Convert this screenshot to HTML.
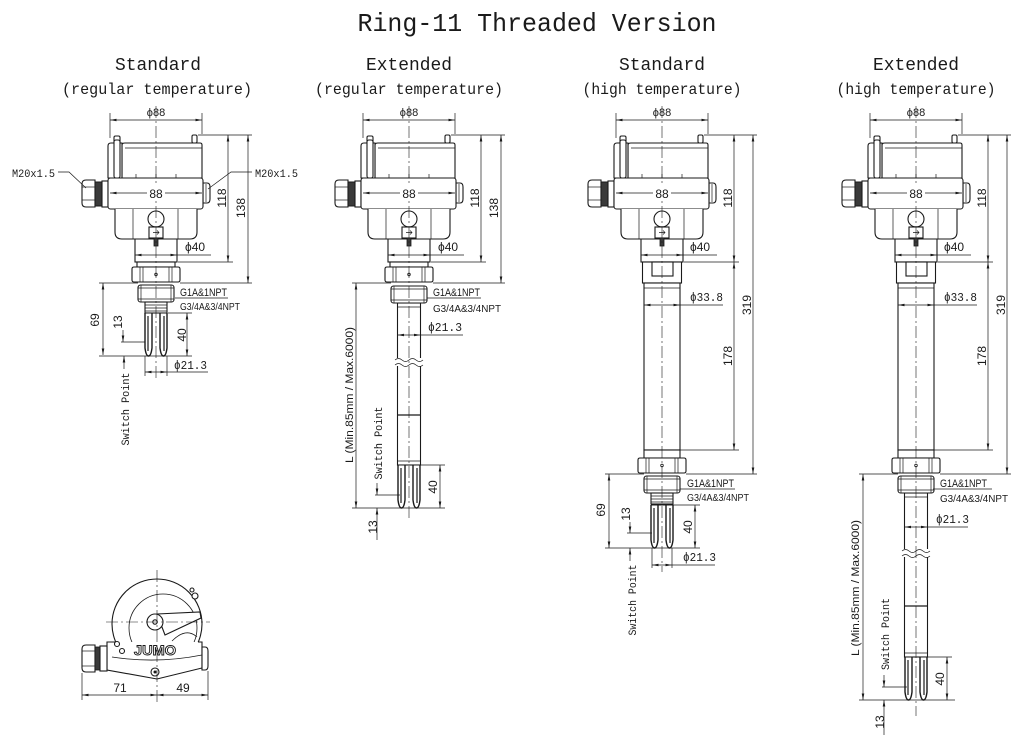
<!DOCTYPE html>
<html><head><meta charset="utf-8"><style>
html,body{margin:0;padding:0;background:#fff;}
svg{display:block;}
text{font-family:"Liberation Sans",sans-serif;fill:#1a1a1a;stroke:none;}
.m{font-family:"Liberation Mono",monospace;}
.d{fill:none;stroke:#1a1a1a;stroke-width:0.7;}
.c{fill:none;stroke:#1a1a1a;stroke-width:0.6;stroke-dasharray:12 3 2 3;}
.o{fill:#fff;stroke:#1a1a1a;stroke-width:1.1;}
.n{fill:none;stroke:#1a1a1a;stroke-width:1.1;}
</style></head><body>
<svg width="1024" height="739" viewBox="0 0 1024 739" xmlns="http://www.w3.org/2000/svg">
<defs>
<marker id="ar" viewBox="0 0 10 4" refX="10" refY="2" markerWidth="7" markerHeight="2.6" markerUnits="userSpaceOnUse" orient="auto-start-reverse"><path d="M0,0L10,2L0,4Z" fill="#1a1a1a"/></marker>
<clipPath id="top"><rect x="90" y="560" width="130" height="82"/></clipPath>
<g id="head">
 <rect class="o" x="-21" y="236" width="42" height="26"/>
 <path class="o" d="M-61,180 H-70 Q-74,180 -74,184 V203 Q-74,207 -70,207 H-61 Z"/>
 <line class="d" x1="-74" y1="187" x2="-61" y2="187"/>
 <line class="d" x1="-74" y1="200" x2="-61" y2="200"/>
 <rect x="-61" y="182" width="7" height="24" fill="#3a3a3a" stroke="#1a1a1a" stroke-width="1"/>
 <rect class="o" x="-54" y="181" width="6" height="26"/>
 <path class="o" d="M47,183 H51 Q54,183 54,187 V199 Q54,203 51,203 H47 Z"/>
 <line class="d" x1="50" y1="184" x2="50" y2="202"/>
 <rect class="o" x="-42" y="136" width="6" height="8" rx="1.5"/>
 <rect class="o" x="36" y="135" width="5" height="8" rx="1.5"/>
 <path class="o" d="M-34,178 V145 Q-34,143 -31,143 H44 Q46,143 46,145 V178 Z"/>
 <line class="d" x1="-31" y1="148" x2="46" y2="148"/>
 <path class="o" d="M-48,178 V146 Q-48,143 -45,143 H-34 V178 Z"/>
 <rect class="o" x="-42" y="140" width="6" height="38" rx="2"/>
 <line class="d" x1="-20" y1="174" x2="-20" y2="178"/>
 <line class="d" x1="0" y1="174" x2="0" y2="178"/>
 <line class="d" x1="20" y1="174" x2="20" y2="178"/>
 <rect class="o" x="-48" y="178" width="95" height="31" rx="2.5"/>
 <path class="o" d="M-41,209 V232 Q-41,239 -34,239 H34 Q41,239 41,232 V209"/>
 <line class="d" x1="-23" y1="209" x2="-23" y2="239"/>
 <line class="d" x1="22" y1="209" x2="22" y2="239"/>
 <circle class="o" cx="0" cy="219" r="8"/>
 <rect class="o" x="-7" y="227" width="14" height="11"/>
 <path class="d" d="M-3,232.5 H3 M1,230.5 L3,232.5 L1,234.5"/>
 <rect x="-2" y="238" width="4" height="8" fill="#3a3a3a" stroke="#1a1a1a" stroke-width="0.8"/>
</g>
<g id="nut">
 <path class="o" d="M-24,2 Q-24,0 -22,0 H22 Q24,0 24,2 V13 Q24,15 22,15 H-22 Q-24,15 -24,13 Z"/>
 <line class="d" x1="-16" y1="0" x2="-16" y2="15"/>
 <line class="d" x1="-13" y1="0" x2="-13" y2="15"/>
 <line class="d" x1="13" y1="0" x2="13" y2="15"/>
 <line class="d" x1="16" y1="0" x2="16" y2="15"/>
 <circle cx="0" cy="7.5" r="1.3" fill="#fff" stroke="#1a1a1a" stroke-width="0.8"/>
</g>
<g id="thr">
 <rect class="o" x="-18" y="0" width="36" height="17" rx="2.5"/>
 <line class="d" x1="-18" y1="3" x2="18" y2="3"/>
 <line class="d" x1="-18" y1="14" x2="18" y2="14"/>
 <line class="d" x1="-15" y1="0" x2="-15" y2="17"/>
 <line class="d" x1="15" y1="0" x2="15" y2="17"/>
</g>
<g id="sml">
 <rect class="o" x="-11" y="0" width="22" height="11"/>
 <line class="d" x1="-11" y1="3" x2="11" y2="3"/>
 <line class="d" x1="-11" y1="6" x2="11" y2="6"/>
 <line class="d" x1="-11" y1="9" x2="11" y2="9"/>
</g>
<g id="fork">
 <path d="M-11,0 V35 Q-10,43 -7.5,43 Q-5,43 -4,35 V0" fill="#fff" stroke="#1a1a1a" stroke-width="1.4"/>
 <path d="M11,0 V35 Q10,43 7.5,43 Q5,43 4,35 V0" fill="#fff" stroke="#1a1a1a" stroke-width="1.4"/>
 <line x1="-8" y1="3" x2="-8" y2="38" stroke="#1a1a1a" stroke-width="1.2"/>
 <line x1="8" y1="3" x2="8" y2="38" stroke="#1a1a1a" stroke-width="1.2"/>
 <line x1="-11" y1="0" x2="11" y2="0" stroke="#1a1a1a" stroke-width="1"/>
</g>
</defs>

<!-- Titles -->
<text class="m" x="537" y="31" text-anchor="middle" font-size="26" textLength="359" lengthAdjust="spacingAndGlyphs">Ring-11 Threaded Version</text>
<text class="m" x="158" y="70" text-anchor="middle" font-size="18" textLength="86" lengthAdjust="spacingAndGlyphs">Standard</text>
<text class="m" x="157" y="94" text-anchor="middle" font-size="16" textLength="190" lengthAdjust="spacingAndGlyphs">(regular temperature)</text>
<text class="m" x="409" y="70" text-anchor="middle" font-size="18" textLength="86" lengthAdjust="spacingAndGlyphs">Extended</text>
<text class="m" x="409" y="94" text-anchor="middle" font-size="16" textLength="188" lengthAdjust="spacingAndGlyphs">(regular temperature)</text>
<text class="m" x="662" y="70" text-anchor="middle" font-size="18" textLength="86" lengthAdjust="spacingAndGlyphs">Standard</text>
<text class="m" x="662" y="94" text-anchor="middle" font-size="16" textLength="159" lengthAdjust="spacingAndGlyphs">(high temperature)</text>
<text class="m" x="916" y="70" text-anchor="middle" font-size="18" textLength="86" lengthAdjust="spacingAndGlyphs">Extended</text>
<text class="m" x="916" y="94" text-anchor="middle" font-size="16" textLength="159" lengthAdjust="spacingAndGlyphs">(high temperature)</text>

<!-- ================= COLUMN 1 ================= -->
<g transform="translate(156,0)">
 <use href="#head"/>
 <rect class="o" x="-19" y="262" width="38" height="5"/>
 <use href="#nut" y="267"/>
 <use href="#thr" y="285"/>
 <use href="#sml" y="302"/>
 <use href="#fork" y="313"/>
 <line class="c" x1="0" y1="106" x2="0" y2="380"/>
 <line class="d" x1="-46" y1="113" x2="-46" y2="138"/>
 <line class="d" x1="46" y1="113" x2="46" y2="134"/>
 <line class="d" x1="-46" y1="120" x2="46" y2="120" marker-start="url(#ar)" marker-end="url(#ar)"/>
 <text x="0" y="116" text-anchor="middle" font-size="11">ϕ88</text>
 <line class="d" x1="-46" y1="193" x2="46" y2="193" marker-start="url(#ar)" marker-end="url(#ar)"/>
 <rect x="-9" y="186" width="18" height="13" fill="#fff"/>
 <text x="0" y="198" text-anchor="middle" font-size="12">88</text>
 <line class="d" x1="42" y1="135" x2="96" y2="135"/>
 <line class="d" x1="22" y1="262" x2="77" y2="262"/>
 <line class="d" x1="24" y1="283" x2="96" y2="283"/>
 <line class="d" x1="-57" y1="283" x2="-18" y2="283"/>
 <line class="d" x1="72" y1="135" x2="72" y2="262" marker-start="url(#ar)" marker-end="url(#ar)"/>
 <line class="d" x1="92" y1="135" x2="92" y2="283" marker-start="url(#ar)" marker-end="url(#ar)"/>
 <text transform="translate(70,198) rotate(-90)" text-anchor="middle" font-size="12">118</text>
 <text transform="translate(89,208) rotate(-90)" text-anchor="middle" font-size="12">138</text>
 <line class="d" x1="-21" y1="255" x2="21" y2="255" marker-start="url(#ar)" marker-end="url(#ar)"/>
 <line class="d" x1="21" y1="255" x2="55" y2="255"/>
 <text x="29" y="251" font-size="12">ϕ40</text>
 <text x="24" y="296" font-size="11" textLength="47" lengthAdjust="spacingAndGlyphs">G1A&amp;1NPT</text>
 <line class="d" x1="19" y1="298" x2="72" y2="298"/>
 <text x="24" y="310" font-size="10" textLength="60" lengthAdjust="spacingAndGlyphs">G3/4A&amp;3/4NPT</text>
 <line class="d" x1="-53" y1="283" x2="-53" y2="355" marker-start="url(#ar)" marker-end="url(#ar)"/>
 <text transform="translate(-57,320) rotate(-90)" text-anchor="middle" font-size="12">69</text>
 <line class="d" x1="-57" y1="356" x2="36" y2="356"/>
 <line class="d" x1="-33" y1="330" x2="-33" y2="342" marker-end="url(#ar)"/>
 <line class="d" x1="-35" y1="342" x2="-11" y2="342"/>
 <text transform="translate(-34,322) rotate(-90)" text-anchor="middle" font-size="12">13</text>
 <line class="d" x1="-32" y1="356" x2="-32" y2="369" marker-start="url(#ar)"/>
 <text class="m" transform="translate(-27,409) rotate(-90)" text-anchor="middle" font-size="11" textLength="73" lengthAdjust="spacingAndGlyphs">Switch Point</text>
 <line class="d" x1="12" y1="313" x2="36" y2="313"/>
 <line class="d" x1="31" y1="313" x2="31" y2="356" marker-start="url(#ar)" marker-end="url(#ar)"/>
 <text transform="translate(30,335) rotate(-90)" text-anchor="middle" font-size="12">40</text>
 <line class="d" x1="-11" y1="356" x2="-11" y2="376"/>
 <line class="d" x1="11" y1="356" x2="11" y2="376"/>
 <line class="d" x1="-11" y1="372" x2="11" y2="372" marker-start="url(#ar)" marker-end="url(#ar)"/>
 <line class="d" x1="11" y1="372" x2="52" y2="372"/>
 <text class="m" x="18" y="369" font-size="12" textLength="33" lengthAdjust="spacingAndGlyphs">ϕ21.3</text>
</g>
<text class="m" x="12" y="177" font-size="11" textLength="43" lengthAdjust="spacingAndGlyphs">M20x1.5</text>
<polyline class="d" points="58,172 69,172 86,188"/>
<text class="m" x="255" y="177" font-size="11" textLength="43" lengthAdjust="spacingAndGlyphs">M20x1.5</text>
<polyline class="d" points="252,172 231,172 208,189"/>

<!-- ================= COLUMN 2 ================= -->
<g transform="translate(409,0)">
 <use href="#head"/>
 <rect class="o" x="-19" y="262" width="38" height="5"/>
 <use href="#nut" y="267"/>
 <rect class="o" x="-11.5" y="303" width="23" height="162"/>
 <line class="d" x1="-11.5" y1="307" x2="11.5" y2="307"/>
 <line class="d" x1="-11.5" y1="415" x2="11.5" y2="415" style="stroke-width:1.2"/>
 <line class="d" x1="-11.5" y1="461" x2="11.5" y2="461"/>
 <rect x="-14" y="358" width="28" height="8" fill="#fff"/>
 <path class="d" d="M-14,360 q3.5,-3 7,0 t7,0 t7,0 t7,0 M-14,365 q3.5,-3 7,0 t7,0 t7,0 t7,0"/>
 <use href="#thr" y="286"/>
 <use href="#fork" y="465"/>
 <line class="c" x1="0" y1="106" x2="0" y2="520"/>
 <line class="d" x1="-46" y1="113" x2="-46" y2="138"/>
 <line class="d" x1="46" y1="113" x2="46" y2="134"/>
 <line class="d" x1="-46" y1="120" x2="46" y2="120" marker-start="url(#ar)" marker-end="url(#ar)"/>
 <text x="0" y="116" text-anchor="middle" font-size="11">ϕ88</text>
 <line class="d" x1="-46" y1="193" x2="46" y2="193" marker-start="url(#ar)" marker-end="url(#ar)"/>
 <rect x="-9" y="186" width="18" height="13" fill="#fff"/>
 <text x="0" y="198" text-anchor="middle" font-size="12">88</text>
 <line class="d" x1="42" y1="135" x2="96" y2="135"/>
 <line class="d" x1="22" y1="262" x2="77" y2="262"/>
 <line class="d" x1="24" y1="283" x2="96" y2="283"/>
 <line class="d" x1="-57" y1="283" x2="-18" y2="283"/>
 <line class="d" x1="72" y1="135" x2="72" y2="262" marker-start="url(#ar)" marker-end="url(#ar)"/>
 <line class="d" x1="92" y1="135" x2="92" y2="283" marker-start="url(#ar)" marker-end="url(#ar)"/>
 <text transform="translate(70,198) rotate(-90)" text-anchor="middle" font-size="12">118</text>
 <text transform="translate(89,208) rotate(-90)" text-anchor="middle" font-size="12">138</text>
 <line class="d" x1="-21" y1="255" x2="21" y2="255" marker-start="url(#ar)" marker-end="url(#ar)"/>
 <line class="d" x1="21" y1="255" x2="55" y2="255"/>
 <text x="29" y="251" font-size="12">ϕ40</text>
 <text x="24" y="296" font-size="11" textLength="47" lengthAdjust="spacingAndGlyphs">G1A&amp;1NPT</text>
 <line class="d" x1="18" y1="298" x2="72" y2="298"/>
 <text x="24" y="312" font-size="10" textLength="68" lengthAdjust="spacingAndGlyphs">G3/4A&amp;3/4NPT</text>
 <line class="d" x1="-11.5" y1="335" x2="11.5" y2="335" marker-start="url(#ar)" marker-end="url(#ar)"/>
 <line class="d" x1="11.5" y1="335" x2="54" y2="335"/>
 <text class="m" x="19" y="331" font-size="12" textLength="34" lengthAdjust="spacingAndGlyphs">ϕ21.3</text>
 <line class="d" x1="-53" y1="283" x2="-53" y2="508" marker-start="url(#ar)" marker-end="url(#ar)"/>
 <text transform="translate(-56,395) rotate(-90)" text-anchor="middle" font-size="11" textLength="136" lengthAdjust="spacingAndGlyphs">L (Min.85mm / Max.6000)</text>
 <line class="d" x1="-57" y1="508" x2="36" y2="508"/>
 <text class="m" transform="translate(-27,443) rotate(-90)" text-anchor="middle" font-size="11" textLength="73" lengthAdjust="spacingAndGlyphs">Switch Point</text>
 <line class="d" x1="-32" y1="483" x2="-32" y2="495" marker-end="url(#ar)"/>
 <line class="d" x1="-34" y1="495" x2="-9" y2="495"/>
 <line class="d" x1="-32" y1="508" x2="-32" y2="540" marker-start="url(#ar)"/>
 <text transform="translate(-32,527) rotate(-90)" text-anchor="middle" font-size="12">13</text>
 <line class="d" x1="12" y1="465" x2="36" y2="465"/>
 <line class="d" x1="31" y1="465" x2="31" y2="508" marker-start="url(#ar)" marker-end="url(#ar)"/>
 <text transform="translate(28,487) rotate(-90)" text-anchor="middle" font-size="12">40</text>
</g>

<!-- ================= COLUMN 3 ================= -->
<g transform="translate(662,0)">
 <use href="#head"/>
 <rect class="o" x="-19.5" y="262" width="39" height="21"/>
 <rect class="o" x="-10" y="262" width="21" height="14"/>
 <rect class="o" x="-18" y="283" width="36" height="167"/>
 <line class="d" x1="-18" y1="288" x2="18" y2="288"/>
 <rect class="o" x="-18" y="450" width="36" height="8"/>
 <use href="#nut" y="458"/>
 <use href="#thr" y="476"/>
 <use href="#sml" y="493"/>
 <use href="#fork" y="505"/>
 <line class="c" x1="0" y1="106" x2="0" y2="572"/>
 <line class="d" x1="-46" y1="113" x2="-46" y2="138"/>
 <line class="d" x1="46" y1="113" x2="46" y2="134"/>
 <line class="d" x1="-46" y1="120" x2="46" y2="120" marker-start="url(#ar)" marker-end="url(#ar)"/>
 <text x="0" y="116" text-anchor="middle" font-size="11">ϕ88</text>
 <line class="d" x1="-46" y1="193" x2="46" y2="193" marker-start="url(#ar)" marker-end="url(#ar)"/>
 <rect x="-9" y="186" width="18" height="13" fill="#fff"/>
 <text x="0" y="198" text-anchor="middle" font-size="12">88</text>
 <line class="d" x1="42" y1="135" x2="95" y2="135"/>
 <line class="d" x1="22" y1="262" x2="77" y2="262"/>
 <line class="d" x1="18" y1="450" x2="77" y2="450"/>
 <line class="d" x1="24" y1="474" x2="95" y2="474"/>
 <line class="d" x1="-57" y1="474" x2="-18" y2="474"/>
 <line class="d" x1="72" y1="135" x2="72" y2="262" marker-start="url(#ar)" marker-end="url(#ar)"/>
 <line class="d" x1="72" y1="262" x2="72" y2="450" marker-start="url(#ar)" marker-end="url(#ar)"/>
 <line class="d" x1="91" y1="135" x2="91" y2="474" marker-start="url(#ar)" marker-end="url(#ar)"/>
 <text transform="translate(70,198) rotate(-90)" text-anchor="middle" font-size="12">118</text>
 <text transform="translate(70,356) rotate(-90)" text-anchor="middle" font-size="12">178</text>
 <text transform="translate(89,305) rotate(-90)" text-anchor="middle" font-size="12">319</text>
 <line class="d" x1="-21" y1="255" x2="21" y2="255" marker-start="url(#ar)" marker-end="url(#ar)"/>
 <line class="d" x1="21" y1="255" x2="55" y2="255"/>
 <text x="28" y="251" font-size="12">ϕ40</text>
 <line class="d" x1="-18" y1="305" x2="18" y2="305" marker-start="url(#ar)" marker-end="url(#ar)"/>
 <line class="d" x1="18" y1="305" x2="61" y2="305"/>
 <text class="m" x="28" y="301" font-size="12" textLength="33" lengthAdjust="spacingAndGlyphs">ϕ33.8</text>
 <text x="25" y="487" font-size="11" textLength="47" lengthAdjust="spacingAndGlyphs">G1A&amp;1NPT</text>
 <line class="d" x1="18" y1="489" x2="73" y2="489"/>
 <text x="25" y="501" font-size="10" textLength="62" lengthAdjust="spacingAndGlyphs">G3/4A&amp;3/4NPT</text>
 <line class="d" x1="-53" y1="474" x2="-53" y2="548" marker-start="url(#ar)" marker-end="url(#ar)"/>
 <text transform="translate(-57,510) rotate(-90)" text-anchor="middle" font-size="12">69</text>
 <line class="d" x1="-57" y1="548" x2="38" y2="548"/>
 <text transform="translate(-32,514) rotate(-90)" text-anchor="middle" font-size="12">13</text>
 <line class="d" x1="-32" y1="522" x2="-32" y2="533" marker-end="url(#ar)"/>
 <line class="d" x1="-35" y1="533" x2="-10" y2="533"/>
 <line class="d" x1="-32" y1="548" x2="-32" y2="561" marker-start="url(#ar)"/>
 <text class="m" transform="translate(-26,600) rotate(-90)" text-anchor="middle" font-size="11" textLength="71" lengthAdjust="spacingAndGlyphs">Switch Point</text>
 <line class="d" x1="11" y1="505" x2="38" y2="505"/>
 <line class="d" x1="33" y1="505" x2="33" y2="548" marker-start="url(#ar)" marker-end="url(#ar)"/>
 <text transform="translate(30,527) rotate(-90)" text-anchor="middle" font-size="12">40</text>
 <line class="d" x1="-10" y1="548" x2="-10" y2="568"/>
 <line class="d" x1="10" y1="548" x2="10" y2="568"/>
 <line class="d" x1="-10" y1="565" x2="10" y2="565" marker-start="url(#ar)" marker-end="url(#ar)"/>
 <line class="d" x1="10" y1="565" x2="53" y2="565"/>
 <text class="m" x="21" y="561" font-size="12" textLength="33" lengthAdjust="spacingAndGlyphs">ϕ21.3</text>
</g>

<!-- ================= COLUMN 4 ================= -->
<g transform="translate(916,0)">
 <use href="#head"/>
 <rect class="o" x="-19.5" y="262" width="39" height="21"/>
 <rect class="o" x="-10" y="262" width="21" height="14"/>
 <rect class="o" x="-18" y="283" width="36" height="167"/>
 <line class="d" x1="-18" y1="288" x2="18" y2="288"/>
 <rect class="o" x="-18" y="450" width="36" height="8"/>
 <use href="#nut" y="458"/>
 <rect class="o" x="-11.5" y="493" width="23" height="164"/>
 <line class="d" x1="-11.5" y1="497" x2="11.5" y2="497"/>
 <line class="d" x1="-11.5" y1="606" x2="11.5" y2="606" style="stroke-width:1.2"/>
 <line class="d" x1="-11.5" y1="653" x2="11.5" y2="653"/>
 <rect x="-14" y="549" width="28" height="8" fill="#fff"/>
 <path class="d" d="M-14,551 q3.5,-3 7,0 t7,0 t7,0 t7,0 M-14,556 q3.5,-3 7,0 t7,0 t7,0 t7,0"/>
 <use href="#thr" y="476"/>
 <use href="#fork" y="657"/>
 <line class="c" x1="0" y1="106" x2="0" y2="716"/>
 <line class="d" x1="-46" y1="113" x2="-46" y2="138"/>
 <line class="d" x1="46" y1="113" x2="46" y2="134"/>
 <line class="d" x1="-46" y1="120" x2="46" y2="120" marker-start="url(#ar)" marker-end="url(#ar)"/>
 <text x="0" y="116" text-anchor="middle" font-size="11">ϕ88</text>
 <line class="d" x1="-46" y1="193" x2="46" y2="193" marker-start="url(#ar)" marker-end="url(#ar)"/>
 <rect x="-9" y="186" width="18" height="13" fill="#fff"/>
 <text x="0" y="198" text-anchor="middle" font-size="12">88</text>
 <line class="d" x1="42" y1="135" x2="95" y2="135"/>
 <line class="d" x1="22" y1="262" x2="77" y2="262"/>
 <line class="d" x1="18" y1="450" x2="77" y2="450"/>
 <line class="d" x1="24" y1="474" x2="95" y2="474"/>
 <line class="d" x1="-57" y1="474" x2="-18" y2="474"/>
 <line class="d" x1="72" y1="135" x2="72" y2="262" marker-start="url(#ar)" marker-end="url(#ar)"/>
 <line class="d" x1="72" y1="262" x2="72" y2="450" marker-start="url(#ar)" marker-end="url(#ar)"/>
 <line class="d" x1="91" y1="135" x2="91" y2="474" marker-start="url(#ar)" marker-end="url(#ar)"/>
 <text transform="translate(70,198) rotate(-90)" text-anchor="middle" font-size="12">118</text>
 <text transform="translate(70,356) rotate(-90)" text-anchor="middle" font-size="12">178</text>
 <text transform="translate(89,305) rotate(-90)" text-anchor="middle" font-size="12">319</text>
 <line class="d" x1="-21" y1="255" x2="21" y2="255" marker-start="url(#ar)" marker-end="url(#ar)"/>
 <line class="d" x1="21" y1="255" x2="55" y2="255"/>
 <text x="28" y="251" font-size="12">ϕ40</text>
 <line class="d" x1="-18" y1="305" x2="18" y2="305" marker-start="url(#ar)" marker-end="url(#ar)"/>
 <line class="d" x1="18" y1="305" x2="61" y2="305"/>
 <text class="m" x="28" y="301" font-size="12" textLength="33" lengthAdjust="spacingAndGlyphs">ϕ33.8</text>
 <text x="24" y="487" font-size="11" textLength="47" lengthAdjust="spacingAndGlyphs">G1A&amp;1NPT</text>
 <line class="d" x1="17" y1="489" x2="76" y2="489"/>
 <text x="24" y="502" font-size="10" textLength="68" lengthAdjust="spacingAndGlyphs">G3/4A&amp;3/4NPT</text>
 <line class="d" x1="-11.5" y1="527" x2="11.5" y2="527" marker-start="url(#ar)" marker-end="url(#ar)"/>
 <line class="d" x1="11.5" y1="527" x2="52" y2="527"/>
 <text class="m" x="20" y="523" font-size="12" textLength="33" lengthAdjust="spacingAndGlyphs">ϕ21.3</text>
 <line class="d" x1="-53" y1="474" x2="-53" y2="700" marker-start="url(#ar)" marker-end="url(#ar)"/>
 <text transform="translate(-57,588) rotate(-90)" text-anchor="middle" font-size="11" textLength="136" lengthAdjust="spacingAndGlyphs">L (Min.85mm / Max.6000)</text>
 <line class="d" x1="-57" y1="700" x2="39" y2="700"/>
 <text class="m" transform="translate(-27,634) rotate(-90)" text-anchor="middle" font-size="11" textLength="72" lengthAdjust="spacingAndGlyphs">Switch Point</text>
 <line class="d" x1="-32" y1="675" x2="-32" y2="687" marker-end="url(#ar)"/>
 <line class="d" x1="-34" y1="687" x2="-9" y2="687"/>
 <line class="d" x1="-32" y1="700" x2="-32" y2="735" marker-start="url(#ar)"/>
 <text transform="translate(-32,722) rotate(-90)" text-anchor="middle" font-size="12">13</text>
 <line class="d" x1="12" y1="657" x2="36" y2="657"/>
 <line class="d" x1="31" y1="657" x2="31" y2="700" marker-start="url(#ar)" marker-end="url(#ar)"/>
 <text transform="translate(28,679) rotate(-90)" text-anchor="middle" font-size="12">40</text>
</g>

<!-- ================= BOTTOM VIEW ================= -->
<g>
 <!-- housing fill (circle + body) -->
 <circle cx="157" cy="624" r="45" fill="#fff"/>
 <path d="M107,642 H202 V668 L157,679 L107,670 Z" fill="#fff"/>
 <!-- circles, clipped above body top -->
 <g clip-path="url(#top)">
  <circle cx="157" cy="624" r="45" class="n"/>
  <circle cx="163" cy="628" r="34" fill="none" stroke="#1a1a1a" stroke-width="0.8"/>
 </g>
 <!-- crescent -->
 <path d="M172,641 Q186,627 197,637" fill="none" stroke="#1a1a1a" stroke-width="0.8"/>
 <!-- body outline -->
 <path class="n" d="M116,642 H107 V670 L157,679 L202,668 V642 H198"/>
 <path d="M112,657 Q157,664 202,655" fill="none" stroke="#1a1a1a" stroke-width="0.8"/>
 <!-- gland -->
 <path class="o" d="M82,649 Q82,645 86,645 H95 V672 H86 Q82,672 82,668 Z"/>
 <line class="d" x1="82" y1="651" x2="95" y2="651"/>
 <line class="d" x1="82" y1="666" x2="95" y2="666"/>
 <rect x="95" y="647" width="5" height="23" fill="#3a3a3a" stroke="#1a1a1a" stroke-width="0.8"/>
 <rect class="o" x="100" y="646" width="7" height="25"/>
 <!-- right plug -->
 <path class="o" d="M202,647 H205 Q208,647 208,651 V666 Q208,670 205,670 H202 Z"/>
 <!-- lever and hub -->
 <path class="o" d="M157,614 L200,612 L201,618 L165,635 Z"/>
 <circle class="o" cx="155" cy="622" r="8"/>
 <circle class="o" cx="155" cy="622" r="2.2"/>
 <!-- screws -->
 <circle class="o" cx="192" cy="590" r="2"/>
 <circle class="o" cx="195" cy="596" r="3"/>
 <circle class="o" cx="117" cy="644" r="2.5"/>
 <circle class="o" cx="122" cy="651" r="2.5"/>
 <circle class="o" cx="155" cy="672" r="4"/>
 <circle cx="155" cy="672" r="1.5" fill="#1a1a1a"/>
 <!-- logo -->
 <text x="155" y="655" text-anchor="middle" font-size="14" font-weight="bold" textLength="42" lengthAdjust="spacingAndGlyphs" style="fill:#fff;stroke:#1a1a1a;stroke-width:0.9">JUMO</text>
 <!-- centre lines -->
 <line class="c" x1="157" y1="570" x2="157" y2="705"/>
 <line class="c" x1="106" y1="622" x2="210" y2="622"/>
 <!-- dims -->
 <line class="d" x1="82" y1="673" x2="82" y2="700"/>
 <line class="d" x1="208" y1="671" x2="208" y2="700"/>
 <line class="d" x1="82" y1="695" x2="157" y2="695" marker-start="url(#ar)" marker-end="url(#ar)"/>
 <line class="d" x1="157" y1="695" x2="208" y2="695" marker-start="url(#ar)" marker-end="url(#ar)"/>
 <text x="120" y="692" text-anchor="middle" font-size="12">71</text>
 <text x="183" y="692" text-anchor="middle" font-size="12">49</text>
</g>
</svg>
</body></html>
